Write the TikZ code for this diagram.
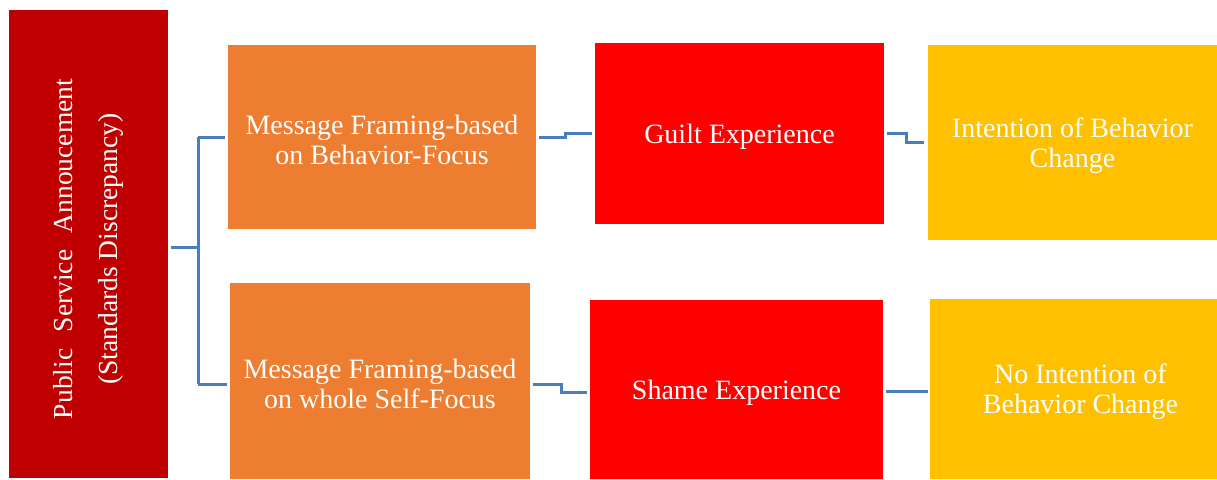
\documentclass[tikz,border=0pt]{standalone}
\usepackage{fontspec}
\setmainfont{Liberation Serif}
\definecolor{cDark}{HTML}{C00000}
\definecolor{cOrange}{HTML}{ED7D31}
\definecolor{cRed}{HTML}{FF0000}
\definecolor{cYellow}{HTML}{FFC000}
\definecolor{cLine}{HTML}{4A7EBB}
\tikzset{
  box/.style={inner sep=0pt, outer sep=0pt},
  txt/.style={inner sep=0pt, outer sep=0pt, text=white, align=center,
    font=\fontsize{28}{30}\selectfont},
  conn/.style={draw=cLine, line width=3pt},
}
\begin{document}
\begin{tikzpicture}[x=1pt,y=-1pt]
\useasboundingbox (0,0) rectangle (1217,479);
% boxes
\node[box, fill=cDark, minimum width=159pt, minimum height=468pt] (b1) at (88.5,244) {};
\node[txt, rotate=90, font=\fontsize{27.5}{45}\selectfont] (b1t) at ([yshift=-5pt]b1.center) {Public\hspace{0.35em} Service\hspace{0.35em} Annoucement\\(Standards Discrepancy)};
\node[box, fill=cOrange, minimum width=308pt, minimum height=184pt] (b2) at (382,137) {};
\node[txt] (b2t) at ([yshift=-3pt]b2.center) {Message Framing-based\\on Behavior-Focus};
\node[box, fill=cRed, minimum width=289pt, minimum height=181pt] (b3) at (739.5,133.5) {};
\node[txt] (b3t) at ([yshift=-3pt]b3.center) {Guilt Experience};
\node[box, fill=cYellow, minimum width=289pt, minimum height=195pt] (b4) at (1072.5,142.5) {};
\node[txt] (b4t) at ([yshift=-3pt]b4.center) {Intention of Behavior\\Change};
\node[box, fill=cOrange, minimum width=300pt, minimum height=196pt] (b5) at (380,381) {};
\node[txt] (b5t) at ([yshift=-3pt]b5.center) {Message Framing-based\\on whole Self-Focus};
\node[box, fill=cRed, minimum width=293pt, minimum height=179pt] (b6) at (736.5,389.5) {};
\node[txt] (b6t) at ([yshift=-3pt]b6.center) {Shame Experience};
\node[box, fill=cYellow, minimum width=287pt, minimum height=180pt] (b7) at (1073.5,389) {};
\node[txt] (b7t) at ([xshift=7pt,yshift=-3pt]b7.center) {No Intention of\\Behavior Change};
% connectors
\coordinate (j) at (198,247);
\draw[conn] ([xshift=3pt]b1.east |- j) -- (j);
\draw[conn] (j |- b2.west) -- (j |- 0,384) ;
\draw[conn] (j |- b2.west) -- ([xshift=-3pt]b2.west);
\draw[conn] (j |- 0,384) -- ([xshift=-3pt,yshift=-3pt]b5.west);
\draw[conn] ([xshift=3pt]b2.east) -- ++(26,0) |- ([xshift=-3pt]b3.west);
\draw[conn] ([xshift=3pt]b3.east) -- ++(19,0) |- ([xshift=-4pt]b4.west);
\draw[conn] ([xshift=3pt,yshift=-3pt]b5.east) -- ++(28,0) |- ([xshift=-3pt,yshift=-2.5pt]b6.west);
\draw[conn] ([xshift=3pt,yshift=-2pt]b6.east) -- ([xshift=-2pt,yshift=-2pt]b6.east -| b7.west);
\end{tikzpicture}
\end{document}
